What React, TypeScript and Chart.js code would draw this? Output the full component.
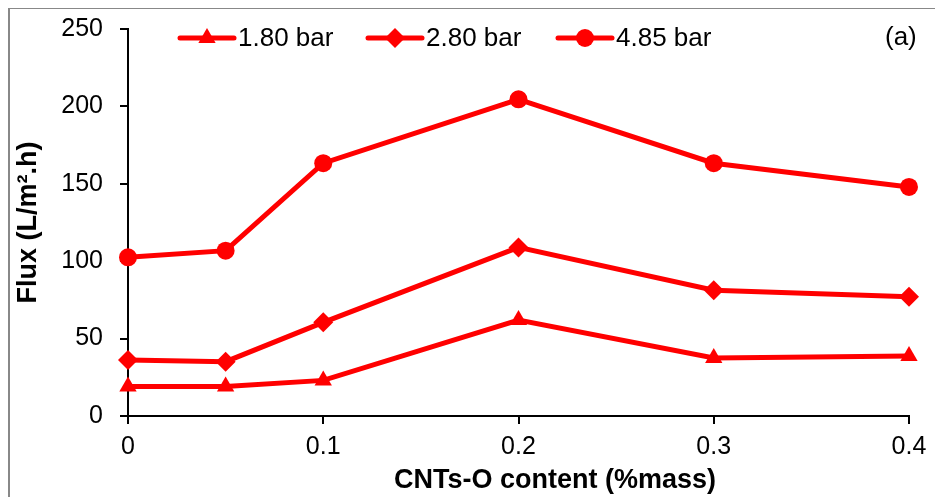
import React, { useEffect, useRef } from 'react';
import { Chart, registerables } from 'chart.js';
import { drawPoint } from 'chart.js/helpers';

Chart.register(...registerables);

// CNTs-O loading (%mass) and measured flux at three pressures
const contentLevels = [0, 0.05, 0.1, 0.2, 0.3, 0.4];
const flux180 = [19, 19, 23, 62, 37.5, 38.8];
const flux280 = [36.2, 35.1, 60.5, 108.9, 81.3, 77];
const flux485 = [102.5, 106.8, 163.3, 204.6, 163.3, 148];
const seriesNames = ['1.80 bar', '2.80 bar', '4.85 bar'];
const xTickValues = [0, 0.1, 0.2, 0.3, 0.4];
const yTickValues = [0, 50, 100, 150, 200, 250];
const panelLabel = '(a)';
const xTitle = 'CNTs-O content (%mass)';
const yTitle = 'Flux (L/m².h)';

const FONT = '"Liberation Sans", Arial, sans-serif';
const RED = '#ff0000';

// Legend drawn inside the plot (line + marker + name), panel tag and x-axis title
const inlineLegend = {
  id: 'inlineLegend',
  afterDraw(chart: any) {
    const ctx = chart.ctx as CanvasRenderingContext2D;
    const y = 29;
    const starts = [170, 358, 548];
    const lineLen = 54;
    ctx.save();
    chart.data.datasets.forEach((ds: any, i: number) => {
      const x0 = starts[i];
      const x1 = x0 + lineLen;
      ctx.strokeStyle = ds.borderColor;
      ctx.lineWidth = ds.borderWidth;
      ctx.lineCap = 'round';
      ctx.beginPath();
      ctx.moveTo(x0, y);
      ctx.lineTo(x1, y);
      ctx.stroke();
      ctx.fillStyle = ds.pointBackgroundColor;
      drawPoint(
        ctx,
        { pointStyle: ds.pointStyle, radius: ds.pointRadius, rotation: 0, borderWidth: 0 } as any,
        (x0 + x1) / 2,
        y
      );
      ctx.fillStyle = '#000';
      ctx.font = `26px ${FONT}`;
      ctx.textAlign = 'left';
      ctx.textBaseline = 'middle';
      ctx.fillText(ds.label, x1 + 4, y + 1);
    });
    ctx.font = `26px ${FONT}`;
    ctx.textAlign = 'left';
    ctx.textBaseline = 'middle';
    ctx.fillStyle = '#000';
    ctx.fillText(panelLabel, 875, y);

    ctx.font = `bold 27px ${FONT}`;
    ctx.textAlign = 'center';
    ctx.fillText(xTitle, 545, 472);
    ctx.restore();
  },
};

function makeSeries(label: string, values: number[], pointStyle: string, radius: number) {
  return {
    label,
    data: contentLevels.map((x, i) => ({ x, y: values[i] })),
    borderColor: RED,
    backgroundColor: RED,
    pointBackgroundColor: RED,
    pointBorderColor: RED,
    pointBorderWidth: 0,
    borderWidth: 5,
    pointStyle,
    pointRadius: radius,
    pointHoverRadius: radius,
    tension: 0,
    clip: false as any,
  };
}

export default function App() {
  const canvasRef = useRef<HTMLCanvasElement | null>(null);

  useEffect(() => {
    document.documentElement.style.overflow = 'hidden';
    const canvas = canvasRef.current;
    if (!canvas) return;
    const chart = new Chart(canvas, {
      type: 'line',
      data: {
        datasets: [
          makeSeries(seriesNames[0], flux180, 'triangle', 10),
          makeSeries(seriesNames[1], flux280, 'rectRot', 10),
          makeSeries(seriesNames[2], flux485, 'circle', 9),
        ],
      },
      options: {
        responsive: false,
        animation: false,
        events: [],
        layout: { padding: { top: 20, right: 34, left: 0, bottom: 0 } },
        plugins: {
          legend: { display: false },
          tooltip: { enabled: false },
        },
        scales: {
          x: {
            type: 'linear',
            min: 0,
            max: 0.4,
            afterBuildTicks: (scale: any) => {
              scale.ticks = xTickValues.map((v) => ({ value: v }));
            },
            afterFit: (scale: any) => {
              scale.height = 81;
            },
            border: { display: true, color: '#000', width: 2 },
            grid: {
              drawOnChartArea: false,
              drawTicks: true,
              tickLength: 8,
              color: '#000',
              lineWidth: 2,
            },
            ticks: {
              color: '#000',
              padding: 8,
              font: { family: FONT, size: 25 },
              maxRotation: 0,
              callback: (v: any) => String(v),
            },
            title: { display: false },
          },
          y: {
            type: 'linear',
            min: 0,
            max: 250,
            afterBuildTicks: (scale: any) => {
              scale.ticks = yTickValues.map((v) => ({ value: v }));
            },
            afterFit: (scale: any) => {
              scale.width = 118;
              scale.paddingTop = 0;
              scale.paddingBottom = 0;
            },
            border: { display: true, color: '#000', width: 2 },
            grid: {
              drawOnChartArea: false,
              drawTicks: true,
              tickLength: 8,
              color: '#000',
              lineWidth: 2,
            },
            ticks: {
              color: '#000',
              padding: 17,
              font: { family: FONT, size: 25 },
              callback: (v: any) => String(v),
            },
            title: {
              display: true,
              text: yTitle,
              color: '#000',
              font: { family: FONT, size: 27, weight: 'bold' },
              padding: { top: 2, bottom: 0 },
            },
          },
        },
      } as any,
      plugins: [inlineLegend],
    });
    return () => chart.destroy();
  }, []);

  return (
    <div
      style={{
        width: 933,
        height: 488,
        marginTop: -1,
        borderTop: '2px solid #888',
        borderLeft: '2px solid #888',
        background: '#fff',
        overflow: 'hidden',
      }}
    >
      <canvas ref={canvasRef} width={933} height={488} style={{ display: 'block' }} />
    </div>
  );
}
